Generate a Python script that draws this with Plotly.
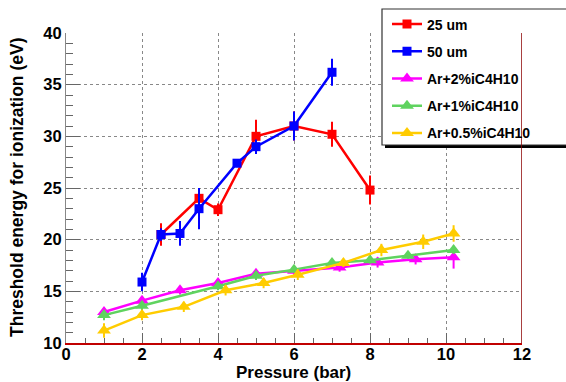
import plotly.graph_objects as go

# ---- data ----
names = ["25 um", "50 um", "Ar+2%iC4H10", "Ar+1%iC4H10", "Ar+0.5%iC4H10"]

red_x = [2.5, 3.5, 4, 5, 6, 7, 8]
red_y = [20.5, 24.0, 22.9, 30.0, 31.0, 30.2, 24.8]
red_err = [1.1, 0.6, 0.6, 1.6, 1.4, 1.2, 1.4]

blue_x = [2, 2.5, 3, 3.5, 4.5, 5, 6, 7]
blue_y = [15.9, 20.5, 20.6, 23.0, 27.4, 29.0, 31.0, 36.2]
blue_err = [0.9, 0.6, 1.2, 2.0, 0.4, 0.7, 1.4, 1.3]

mag_x = [1, 2, 3, 4, 5, 6, 7.2, 8.2, 9.2, 10.2]
mag_y = [13.0, 14.1, 15.1, 15.8, 16.7, 17.0, 17.3, 17.8, 18.1, 18.3]
mag_err = [0.4, 0.4, 0.4, 0.4, 0.4, 0.4, 0.4, 0.5, 0.5, 1.1]

grn_x = [1, 2, 4, 5, 6, 7, 8, 9, 10.2]
grn_y = [12.7, 13.6, 15.5, 16.5, 17.1, 17.75, 18.0, 18.45, 19.0]
grn_err = [0.5, 0.4, 0.4, 0.4, 0.3, 0.3, 0.3, 0.3, 0.4]

yel_x = [1, 2, 3.1, 4.2, 5.2, 6.1, 7.3, 8.3, 9.4, 10.2]
yel_y = [11.2, 12.7, 13.5, 15.1, 15.8, 16.6, 17.75, 19.0, 19.8, 20.6]
yel_err = [0.7, 0.5, 0.5, 0.5, 0.5, 0.5, 0.4, 0.6, 0.7, 0.8]

x_ticks = [0, 2, 4, 6, 8, 10, 12]
y_ticks = [10, 15, 20, 25, 30, 35, 40]
x_title = "Pressure (bar)"
y_title = "Threshold energy for ionization (eV)"

series = [
    (red_x, red_y, red_err, "#ff0000", "square", 9),
    (blue_x, blue_y, blue_err, "#0000ff", "square", 9),
    (mag_x, mag_y, mag_err, "#ff00ff", "triangle-up", 12),
    (grn_x, grn_y, grn_err, "#5fd35f", "triangle-up", 12),
    (yel_x, yel_y, yel_err, "#ffcc00", "triangle-up", 12),
]

FONT = "Liberation Sans"

fig = go.Figure()
for i, (xs, ys, es, col, sym, sz) in enumerate(series):
    fig.add_trace(go.Scatter(
        x=xs, y=ys, name=names[i], legendgroup=f"g{i}",
        mode="lines+markers",
        line=dict(color=col, width=2.5),
        marker=dict(color=col, symbol=sym, size=sz),
        error_y=dict(type="data", array=es, color=col, thickness=2, width=0),
    ))

W, H = 566, 382
L, R, T, B = 66, 44, 33, 39
pw, ph = W - L - R, H - T - B

def px2paper_x(px):
    return (px - L) / pw

def px2paper_y(py):
    return (H - B - py) / ph

# legend box with shadow
fig.add_shape(type="rect", xref="paper", yref="paper",
              x0=px2paper_x(385), x1=px2paper_x(600),
              y0=px2paper_y(148), y1=px2paper_y(12),
              fillcolor="black", line=dict(width=0), layer="above")
fig.add_shape(type="rect", xref="paper", yref="paper",
              x0=px2paper_x(382), x1=px2paper_x(597),
              y0=px2paper_y(145), y1=px2paper_y(9),
              fillcolor="white", line=dict(color="#333333", width=1.2), layer="above")

# right frame border
fig.add_shape(type="line", xref="x", yref="y", x0=12, x1=12, y0=10, y1=40,
              line=dict(color="#8b0000", width=1.5), layer="above")

# axis titles
fig.add_annotation(text=x_title, xref="paper", yref="paper",
                   x=px2paper_x(293), y=px2paper_y(372.5), xanchor="center", yanchor="middle",
                   showarrow=False, font=dict(family=FONT, size=17, weight="bold"))
fig.add_annotation(text=y_title, xref="paper", yref="paper", textangle=-90,
                   x=px2paper_x(17), y=px2paper_y(188), xanchor="center", yanchor="middle",
                   showarrow=False, font=dict(family=FONT, size=17.5, weight="bold"))

fig.update_layout(
    width=W, height=H,
    margin=dict(l=L, r=R, t=T, b=B, autoexpand=False),
    paper_bgcolor="white", plot_bgcolor="white",
    font=dict(family=FONT, size=17, color="black", weight="bold"),
    showlegend=True,
    legend=dict(
        x=px2paper_x(387), y=px2paper_y(8.5), xanchor="left", yanchor="top",
        bgcolor="rgba(0,0,0,0)", borderwidth=0,
        font=dict(family=FONT, size=14, weight="bold"),
        traceorder="grouped", tracegroupgap=6,
    ),
    xaxis=dict(
        range=[0, 12], tickvals=x_ticks, ticktext=[str(v) for v in x_ticks],
        ticks="inside", ticklen=10, tickcolor="#666666", tickwidth=1,
        minor=dict(dtick=0.5, ticks="inside", ticklen=5, tickcolor="#666666", showgrid=False),
        showgrid=True, gridcolor="#888888", griddash="dot", gridwidth=1,
        showline=True, linecolor="#c00000", linewidth=2,
        zeroline=False, automargin=False, ticklabelstandoff=-5,
        tickfont=dict(family=FONT, size=16.5, weight="bold"),
    ),
    yaxis=dict(
        range=[10, 40], tickvals=y_ticks, ticktext=[str(v) for v in y_ticks],
        ticks="inside", ticklen=14, tickcolor="#666666", tickwidth=1,
        minor=dict(dtick=1, ticks="inside", ticklen=7, tickcolor="#666666", showgrid=False),
        showgrid=True, gridcolor="#888888", griddash="dot", gridwidth=1,
        showline=True, linecolor="#888888", linewidth=1,
        zeroline=False, automargin=False,
        tickfont=dict(family=FONT, size=16.5, weight="bold"),
    ),
)

fig.write_html("out.html")
